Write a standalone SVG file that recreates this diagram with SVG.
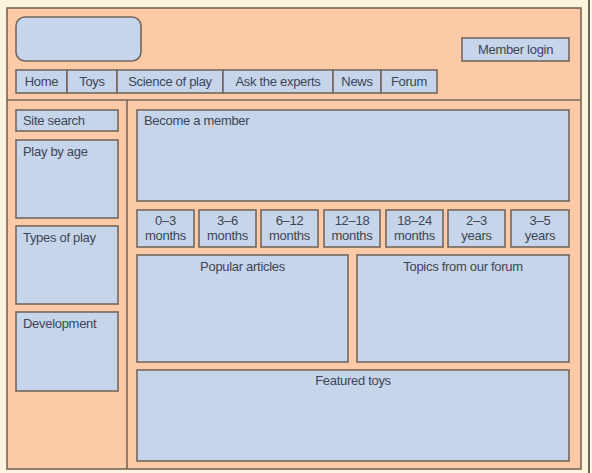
<svg xmlns="http://www.w3.org/2000/svg" width="592" height="473" viewBox="0 0 592 473">
<style>
.box{fill:#c6d5ea;stroke:#75675d;stroke-width:1.6}
.t{font-family:"Liberation Sans",Arial,sans-serif;font-size:13px;letter-spacing:-0.3px;fill:#3e4555}
.c{text-anchor:middle}
.line{stroke:#75675d;stroke-width:1.6;fill:none}
</style>
<rect x="0" y="0" width="592" height="473" fill="#fdf4dd"/>
<rect x="7" y="8" width="574" height="461" fill="#fccaa6" stroke="#75675d" stroke-width="1.6"/>
<line x1="589" y1="0" x2="589" y2="473" stroke="#3a3a3a" stroke-width="1.5"/>
<g id="dividers">
<line class="line" x1="7" y1="100" x2="581" y2="100"/>
<line class="line" x1="127" y1="100" x2="127" y2="469"/>
</g>
<g id="logo"><rect class="box" x="16" y="17" width="125" height="44" rx="9"/></g>
<g id="member-login"><rect class="box" x="462" y="38" width="107" height="23"/><text class="t c" x="515.5" y="54">Member login</text></g>
<g id="nav">
<rect class="box" x="16" y="70" width="51" height="23"/><text class="t c" x="41.5" y="86">Home</text>
<rect class="box" x="67" y="70" width="50" height="23"/><text class="t c" x="92" y="86">Toys</text>
<rect class="box" x="117" y="70" width="106" height="23"/><text class="t c" x="170" y="86">Science of play</text>
<rect class="box" x="223" y="70" width="110" height="23"/><text class="t c" x="278" y="86">Ask the experts</text>
<rect class="box" x="333" y="70" width="48" height="23"/><text class="t c" x="357" y="86">News</text>
<rect class="box" x="381" y="70" width="56" height="23"/><text class="t c" x="409" y="86">Forum</text>
</g>
<g id="site-search"><rect class="box" x="16" y="110" width="102" height="21"/><text class="t" x="23" y="125">Site search</text></g>
<g id="play-by-age"><rect class="box" x="16" y="140" width="102" height="78"/><text class="t" x="23" y="156">Play by age</text></g>
<g id="types-of-play"><rect class="box" x="16" y="226" width="102" height="78"/><text class="t" x="23" y="242">Types of play</text></g>
<g id="development"><rect class="box" x="16" y="312" width="102" height="79"/><text class="t" x="23" y="328">Development</text></g>
<g id="become-member"><rect class="box" x="137" y="110" width="432" height="91"/><text class="t" x="144" y="125">Become a member</text></g>
<g id="ages">
<rect class="box" x="137" y="210" width="57" height="37"/><text class="t c" x="165.5" y="225">0–3</text><text class="t c" x="165.5" y="240">months</text>
<rect class="box" x="199" y="210" width="57" height="37"/><text class="t c" x="227.5" y="225">3–6</text><text class="t c" x="227.5" y="240">months</text>
<rect class="box" x="261" y="210" width="57" height="37"/><text class="t c" x="289.5" y="225">6–12</text><text class="t c" x="289.5" y="240">months</text>
<rect class="box" x="324" y="210" width="56" height="37"/><text class="t c" x="352" y="225">12–18</text><text class="t c" x="352" y="240">months</text>
<rect class="box" x="386" y="210" width="57" height="37"/><text class="t c" x="414.5" y="225">18–24</text><text class="t c" x="414.5" y="240">months</text>
<rect class="box" x="448" y="210" width="57" height="37"/><text class="t c" x="476.5" y="225">2–3</text><text class="t c" x="476.5" y="240">years</text>
<rect class="box" x="511" y="210" width="58" height="37"/><text class="t c" x="540" y="225">3–5</text><text class="t c" x="540" y="240">years</text>
</g>
<g id="popular-articles"><rect class="box" x="137" y="255" width="211" height="107"/><text class="t c" x="242.5" y="271">Popular articles</text></g>
<g id="topics-forum"><rect class="box" x="357" y="255" width="212" height="107"/><text class="t c" x="463" y="271">Topics from our forum</text></g>
<g id="featured-toys"><rect class="box" x="137" y="370" width="432" height="91"/><text class="t c" x="353" y="385">Featured toys</text></g>
</svg>
